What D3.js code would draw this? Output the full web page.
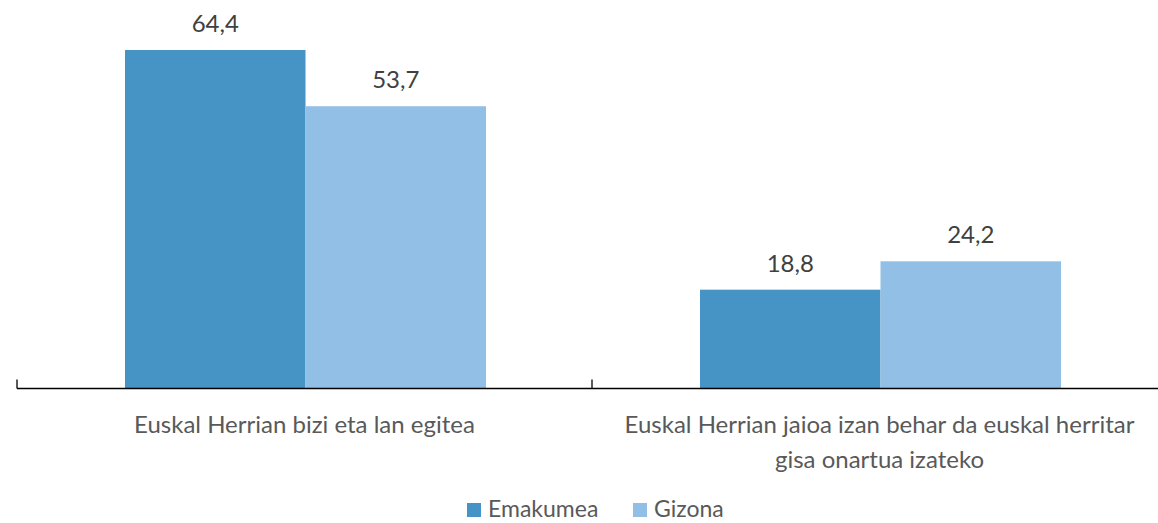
<!DOCTYPE html>
<html>
  <head>
    <meta charset="utf-8">
    <script src="https://d3js.org/d3.v7.min.js"></script>
    <style>
      body { margin: 0; background: #fff; }
      text { font-family: Lato, "Open Sans", sans-serif; }
    </style>
  </head>
  <body>
    <svg id="chart" width="1158" height="523"></svg>
  </body>
  <script type="text/javascript">
    var categories = ["Euskal Herrian bizi eta lan egitea",
                      "Euskal Herrian jaioa izan behar da euskal herritar|gisa onartua izateko"];
    var series = ["Emakumea", "Gizona"];
    var emakumea = [64.4, 18.8];
    var gizona = [53.7, 24.2];
    var colors = ["#4594c5", "#92bfe6"];

    var data = categories.map(function (c, i) {
      return { cat: c, values: [emakumea[i], gizona[i]] };
    });

    var svg = d3.select("#chart");
    var baseY = 388.5;

    var x0 = d3.scaleBand()
      .domain(categories)
      .range([17, 1167])
      .paddingInner(0)
      .paddingOuter(0);

    var x1 = d3.scaleBand()
      .domain(series)
      .range([108, x0.bandwidth() - 106]);

    var y = d3.scaleLinear()
      .domain([0, 64.4])
      .range([baseY, 50]);

    var groups = svg.selectAll("g.group")
      .data(data)
      .enter()
      .append("g")
        .attr("class", "group")
        .attr("transform", function (d) { return "translate(" + x0(d.cat) + ",0)"; });

    groups.selectAll("rect")
      .data(function (d) { return d.values.map(function (v, i) { return { s: series[i], v: v, i: i }; }); })
      .enter()
      .append("rect")
        .attr("x", function (d) { return x1(d.s); })
        .attr("width", x1.bandwidth())
        .attr("y", function (d) { return y(d.v); })
        .attr("height", function (d) { return baseY - y(d.v); })
        .style("fill", function (d) { return colors[d.i]; });

    groups.selectAll("text.val")
      .data(function (d) { return d.values.map(function (v, i) { return { s: series[i], v: v }; }); })
      .enter()
      .append("text")
        .attr("class", "val")
        .attr("x", function (d) { return x1(d.s) + x1.bandwidth() / 2; })
        .attr("y", function (d) { return y(d.v) - 18; })
        .attr("text-anchor", "middle")
        .style("font-size", "24px")
        .style("fill", "#404040")
        .text(function (d) { return d3.format(".1f")(d.v).replace(".", ","); });

    // axis
    var axis = svg.append("g")
      .attr("transform", "translate(0," + baseY + ")")
      .call(d3.axisBottom(x0).tickSize(0).tickFormat(""));
    axis.select(".domain").remove();
    axis.append("line")
      .attr("x1", 17).attr("x2", 1167)
      .attr("stroke", "#000").attr("stroke-width", 1.3);
    axis.selectAll("line.tk")
      .data([17, 592, 1167])
      .enter()
      .append("line")
        .attr("class", "tk")
        .attr("x1", function (d) { return d; })
        .attr("x2", function (d) { return d; })
        .attr("y1", -9).attr("y2", 0)
        .attr("stroke", "#000").attr("stroke-width", 1.3);

    var catLabels = svg.selectAll("text.cat")
      .data(categories)
      .enter()
      .append("text")
        .attr("class", "cat")
        .attr("text-anchor", "middle")
        .style("font-size", "24px")
        .style("fill", "#595959")
        .attr("transform", function (d) { return "translate(" + (x0(d) + x0.bandwidth() / 2) + ",433)"; });
    catLabels.selectAll("tspan")
      .data(function (d) { return d.split("|"); })
      .enter()
      .append("tspan")
        .attr("x", 0)
        .attr("dy", function (d, i) { return i === 0 ? 0 : 35; })
        .text(function (d) { return d; });

    // legend
    var legendX = [467, 633];
    var legend = svg.selectAll("g.legend")
      .data(series)
      .enter()
      .append("g")
        .attr("class", "legend")
        .attr("transform", function (d, i) { return "translate(" + legendX[i] + ",503)"; });
    legend.append("rect")
      .attr("width", 14).attr("height", 14)
      .style("fill", function (d, i) { return colors[i]; });
    legend.append("text")
      .attr("x", 21).attr("y", 14)
      .style("font-size", "23px")
      .style("fill", "#595959")
      .text(function (d) { return d; });
  </script>
</html>
